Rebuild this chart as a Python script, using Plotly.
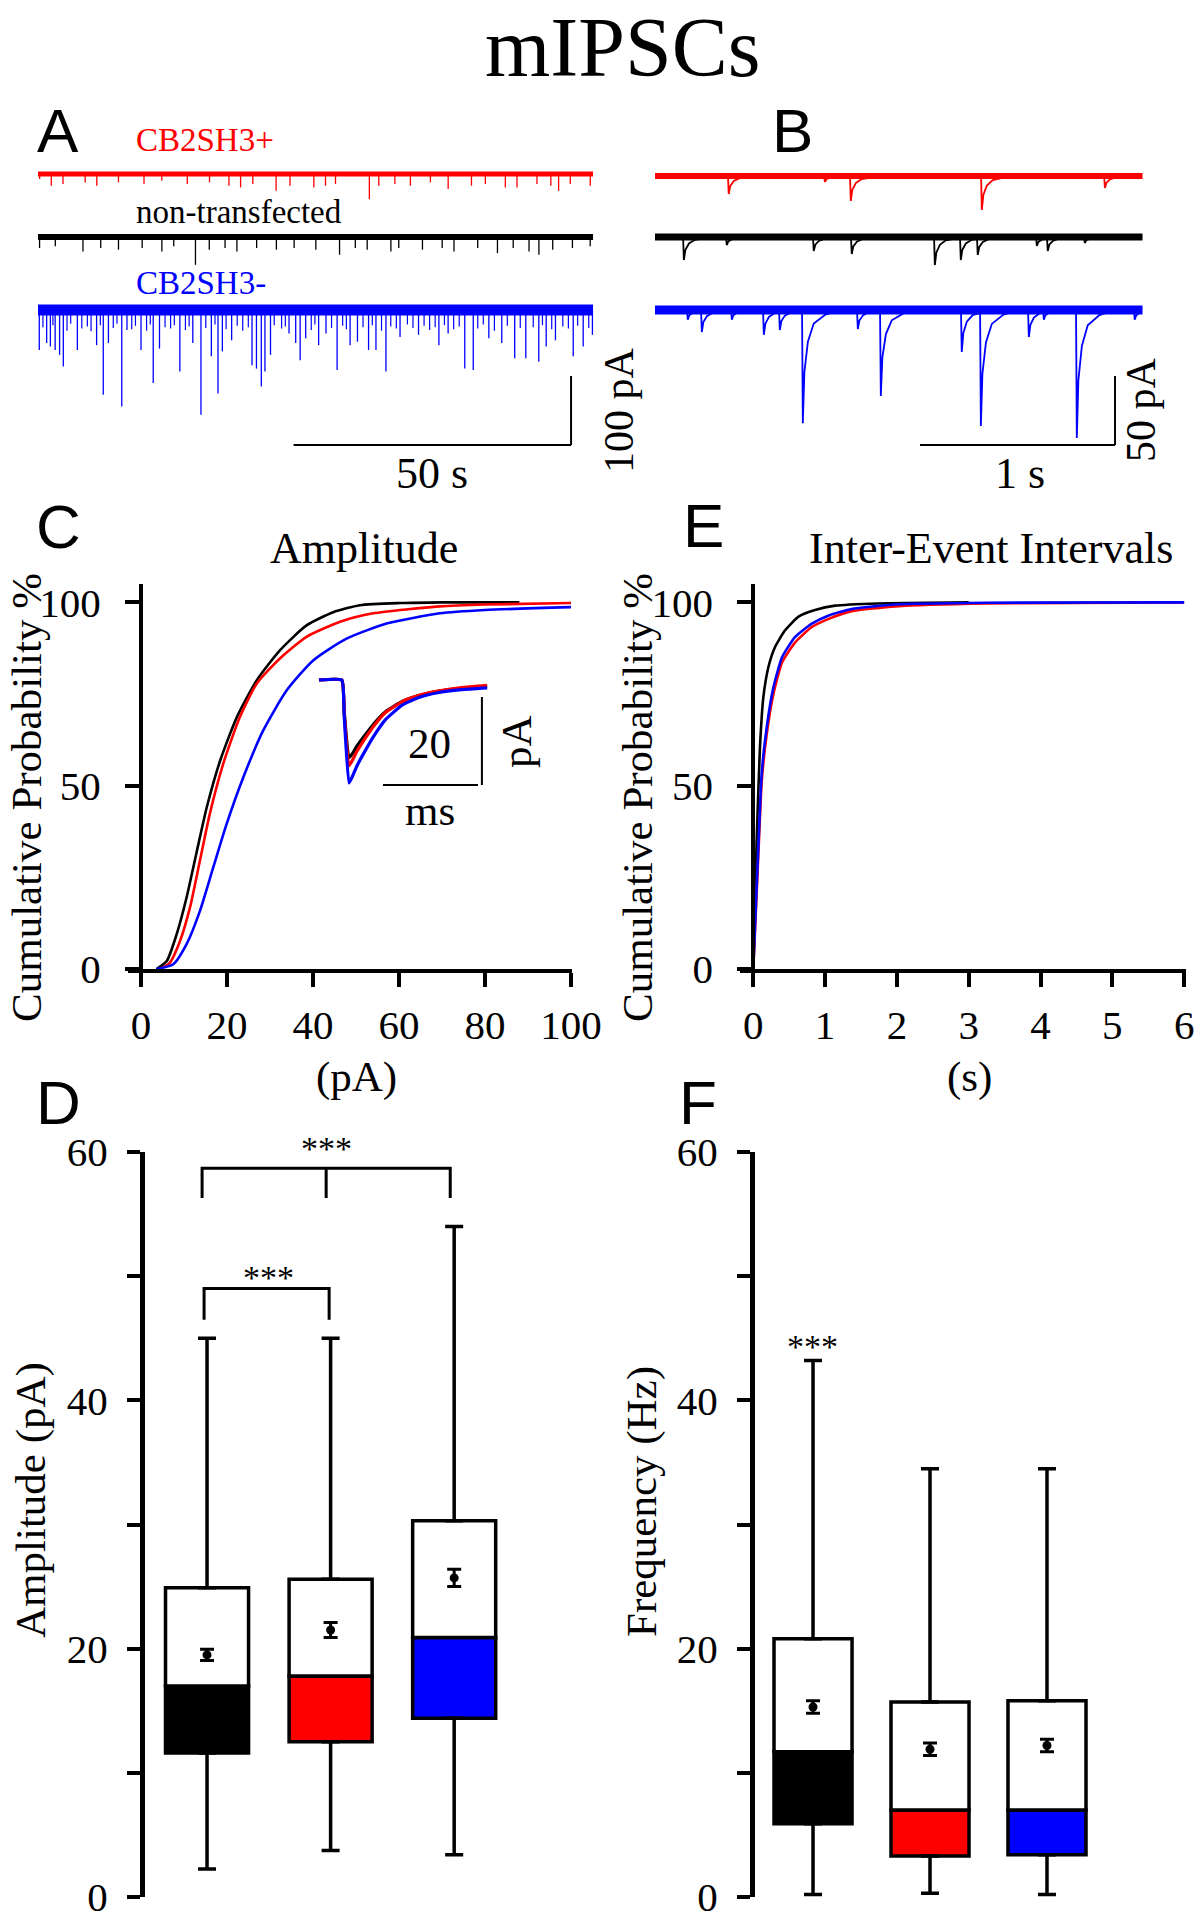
import plotly.graph_objects as go

W, H = 1202, 1920
SERIF = "Liberation Serif"
SANS = "Liberation Sans"
BLACK, RED, BLUE = "#000000", "#FF0000", "#0000FF"

# ---------------- Panel A : 100 s overview (event time [s], amplitude [pA]) ----------------
A_END = 100.0
A_RED_T = [0.3, 2.4, 4.5, 8.5, 10.6, 14.5, 19.1, 22.3, 26.9, 30.9, 34.4, 36.5, 38.7, 42.9, 45.4,
           49.7, 51.8, 53.6, 59.7, 61.4, 64.3, 67.1, 70.7, 73.9, 78.1, 80.6, 84.2, 86.3, 89.9,
           92.4, 93.8, 95.9, 99.5]
A_RED_AMP = [7.3, 17, 14.6, 12.2, 17, 12.2, 14.6, 9.7, 14.6, 12.2, 17, 19.5, 14.6, 24.4, 17,
             19.5, 17, 14.6, 36.5, 17, 14.6, 17, 12.2, 21.9, 17, 14.6, 19.5, 19.5, 14.6,
             17, 24.4, 14.6, 17]
A_BLACK_T = [0.28, 3.12, 8.1, 11.3, 14.5, 18.77, 22.32, 24.46, 28.37, 30.86, 33.7, 35.84, 39.39,
             42.95, 46.15, 50.06, 54.33, 57.17, 59.31, 63.58, 65.0, 69.27, 72.82, 74.95, 79.22,
             82.78, 85.62, 88.47, 90.25, 92.74, 96.29, 99.49]
A_BLACK_AMP = [16, 13.6, 21, 16, 18.5, 16, 21, 13.6, 40.4, 18.5, 16, 21, 16, 18.5, 16, 18.5, 25.8,
               16, 18.5, 21, 16, 18.5, 16, 21, 16, 23.4, 16, 21, 25.8, 18.5, 16, 13.6]
A_BLUE_T = [0.23, 1.56, 2.23, 3.09, 3.89, 4.56, 7.09, 10.56, 11.76, 12.69, 15.09, 16.03, 18.56,
            20.76, 21.89, 25.56, 27.89, 29.36, 31.23, 32.43, 33.22, 34.89, 38.56, 39.36, 40.23,
            40.89, 41.89, 45.23, 46.43, 47.23, 48.23, 50.56, 51.89, 53.89, 56.23, 57.56, 59.56,
            60.89, 62.69, 65.23, 68.56, 72.23, 73.89, 76.89, 78.42, 81.23, 83.56, 85.89, 87.89,
            90.23, 91.56, 93.23, 96.43, 98.23, 99.89]
A_BLUE_AMP = [58, 48, 53, 58, 65, 82, 58, 51, 123, 48, 140, 29, 58, 106, 56, 89, 48, 152, 67, 121,
              60, 44, 80, 85, 111, 89, 65, 34, 48, 73, 41, 51, 34, 87, 51, 46, 58, 58, 89, 39, 36,
              51, 34, 85, 87, 41, 48, 70, 70, 75, 53, 44, 67, 53, 36]
A_BLUE_SMALL_T = [0.89, 2.69, 5.23, 5.89, 7.89, 8.89, 9.56, 11.23, 13.56, 14.23, 16.89, 17.56,
                  19.56, 20.23, 22.89, 23.89, 24.56, 26.56, 27.23, 30.23, 31.89, 33.89, 35.89,
                  36.89, 37.89, 42.56, 43.89, 44.56, 49.23, 49.89, 52.89, 54.89, 55.56, 58.56,
                  60.23, 61.89, 63.56, 64.56, 66.56, 67.56, 69.56, 70.56, 71.56, 73.23, 74.89,
                  75.89, 79.23, 80.23, 82.23, 84.56, 86.89, 89.23, 90.89, 92.56, 94.56, 95.56,
                  97.23, 99.23]
A_BLUE_SMALL_AMP = [25, 22, 30, 20, 27, 24, 31, 22, 26, 20, 28, 23, 30, 21, 25, 27, 22, 29, 24, 26,
                    21, 28, 23, 30, 25, 22, 27, 24, 29, 21, 26, 23, 28, 25, 22, 30, 24, 27, 21, 26,
                    23, 29, 25, 22, 28, 24, 27, 21, 30, 23, 26, 25, 22, 28, 24, 27, 23, 26]

# ---------------- Panel B : 2.5 s excerpt (event time [s], amplitude [pA]) ----------------
B_END = 2.5
B_RED_T = [0.374, 0.867, 1.0, 1.672, 2.303]
B_RED_AMP = [13, 4.3, 18, 24.6, 8.7]
B_BLACK_T = [0.144, 0.364, 0.81, 1.005, 1.431, 1.564, 1.651, 1.954, 2.01, 2.2]
B_BLACK_AMP = [16.7, 5.8, 10.1, 12.3, 20.3, 16.7, 13, 6.5, 10.1, 4.3]
B_BLUE_T = [0.164, 0.236, 0.39, 0.554, 0.636, 0.754, 1.036, 1.154, 1.569, 1.667, 1.913, 1.99,
            2.159, 2.456]
B_BLUE_AMP = [7, 16, 7, 18, 14.5, 82, 13.8, 62.3, 30.4, 84, 19.6, 7, 92.8, 7]
# mean mIPSC shape (time after event onset [s], fraction of peak)
EVENT_DT = [0, 0.004, 0.012, 0.03, 0.06, 0.12, 0.2]
EVENT_FRAC = [0, 1, 0.55, 0.28, 0.12, 0.04, 0]

# ---------------- Panel C : amplitude cumulative distributions ----------------
C_X_BLACK = [3.6, 6.0, 8.3, 10.6, 13.0, 15.3, 18.4, 22.3, 26.9, 32.3, 38.5, 44.7, 50.9, 60.2, 70, 88]
C_Y_BLACK = [0, 2.2, 9.5, 19.5, 32.2, 44.1, 56.8, 68.7, 78.7, 86.9, 93.7, 97.3, 99.2, 99.8, 100, 100]
C_X_RED = [4.4, 6.7, 9.1, 11.4, 13.7, 16.0, 19.1, 23.0, 26.9, 32.3, 38.5, 46.3, 54.0, 69.5, 80, 100]
C_Y_RED = [0, 1.7, 7.7, 16.8, 29.5, 42.3, 55.9, 68.7, 77.8, 84.7, 90.6, 94.7, 97.0, 98.9, 99.4, 99.8]
C_X_BLUE = [3.6, 7.5, 10.6, 13.7, 16.8, 19.9, 23.8, 28.4, 33.9, 40.1, 47.8, 57.1, 69.5, 80, 100]
C_Y_BLUE = [0, 1.3, 6.8, 15.8, 27.7, 39.5, 52.3, 65.0, 76.0, 84.2, 90.1, 94.2, 97.0, 97.9, 98.7]

# inset: averaged mIPSC (ms, pA)
INSET_T = [0, 4.8, 5.3, 6.3, 7.0, 8.0, 9.5, 11.5, 14, 17.5, 21, 25, 30, 35.4]
INSET_BLACK = [0, 0, -7, -17.7, -16.8, -15, -12.8, -10, -7.2, -4.9, -3.6, -2.6, -1.9, -1.5]
INSET_RED = [0, 0, -7.5, -19.5, -18.3, -16.2, -13.6, -10.5, -7.4, -4.9, -3.5, -2.5, -1.7, -1.2]
INSET_BLUE = [0, 0, -8, -23.4, -22, -19.5, -16.5, -12.8, -9.0, -5.7, -4.0, -2.9, -2.2, -1.8]

# ---------------- Panel E : inter-event interval cumulative distributions ----------------
E_T_BLACK = [0, 0.047, 0.093, 0.14, 0.21, 0.30, 0.44, 0.63, 0.86, 1.14, 1.74, 3.0]
E_Y_BLACK = [0, 35, 60.5, 74.1, 82.3, 87.7, 92.3, 96.1, 97.9, 99.1, 99.7, 100]
E_T_RB = [0, 0.07, 0.117, 0.187, 0.28, 0.40, 0.58, 0.81, 1.05, 1.37, 1.98, 3.23, 6.0]
E_Y_RED = [0, 31, 51, 64, 75, 83.6, 89, 93.2, 95.5, 97.6, 98.9, 99.7, 100]
E_Y_BLUE = [0, 33, 53.2, 65.9, 76.8, 85, 90.5, 94.1, 96.4, 98.2, 99.4, 99.9, 100]

# ---------------- Panels D / F : box plots (order: non-transfected, CB2SH3+, CB2SH3-) ----------------
BOX_POS = [1, 2, 3]
BOX_COLORS = [BLACK, RED, BLUE]
D_MIN = [2.26, 3.75, 3.4]
D_Q1 = [11.6, 12.5, 14.4]
D_MED = [17.0, 17.8, 20.9]
D_Q3 = [24.9, 25.6, 30.3]
D_MAX = [45.0, 45.0, 54.0]
D_MEAN = [19.5, 21.5, 25.7]
D_SEM = [0.45, 0.6, 0.7]
F_MIN = [0.2, 0.3, 0.2]
F_Q1 = [5.9, 3.3, 3.4]
F_MED = [11.7, 7.0, 7.0]
F_Q3 = [20.8, 15.7, 15.8]
F_MAX = [43.2, 34.5, 34.5]
F_MEAN = [15.3, 11.9, 12.2]
F_SEM = [0.5, 0.5, 0.5]


def dx(p0, p1):
    return [p0 / W, p1 / W]


def dy(top, bottom):
    return [1 - bottom / H, 1 - top / H]


fig = go.Figure()


def add(tr):
    fig.add_trace(tr)


def band(x0, x1, base, color, width, xa, ya):
    add(go.Scatter(x=[x0, x1], y=[base, base], mode="lines", line=dict(color=color, width=width),
                   xaxis=xa, yaxis=ya, hoverinfo="skip"))


def spikes(ts, amps, base, color, width, xa, ya):
    xs, ys = [], []
    for t, a in zip(ts, amps):
        xs += [t, t, None]
        ys += [base, base - a, None]
    add(go.Scatter(x=xs, y=ys, mode="lines", line=dict(color=color, width=width),
                   xaxis=xa, yaxis=ya, hoverinfo="skip"))


def events(ts, amps, base, color, width, xa, ya, t_end):
    xs, ys = [], []
    for t, a in zip(ts, amps):
        for d, f in zip(EVENT_DT, EVENT_FRAC):
            if t + d > t_end:
                break
            xs.append(t + d)
            ys.append(base - a * f)
        xs.append(None)
        ys.append(None)
    add(go.Scatter(x=xs, y=ys, mode="lines", line=dict(color=color, width=width),
                   xaxis=xa, yaxis=ya, hoverinfo="skip"))


# ---- Panel A (baselines: layout offsets in pA) ----
A_OFF = {"red": 197.1, "black": 105.8, "blue": 0.0}
band(0, A_END, A_OFF["red"], RED, 5, "x", "y")
spikes(A_RED_T, A_RED_AMP, A_OFF["red"], RED, 1.3, "x", "y")
band(0, A_END, A_OFF["black"], BLACK, 6, "x", "y")
spikes(A_BLACK_T, A_BLACK_AMP, A_OFF["black"], BLACK, 1.3, "x", "y")
band(0, A_END, A_OFF["blue"], BLUE, 11, "x", "y")
spikes(A_BLUE_SMALL_T, A_BLUE_SMALL_AMP, A_OFF["blue"], BLUE, 1.2, "x", "y")
spikes(A_BLUE_T, A_BLUE_AMP, A_OFF["blue"], BLUE, 1.3, "x", "y")

# ---- Panel B ----
B_OFF = {"red": 97.1, "black": 52.9, "blue": 0.0}
band(0, B_END, B_OFF["red"], RED, 6, "x2", "y2")
events(B_RED_T, B_RED_AMP, B_OFF["red"], RED, 1.8, "x2", "y2", B_END)
band(0, B_END, B_OFF["black"], BLACK, 7, "x2", "y2")
events(B_BLACK_T, B_BLACK_AMP, B_OFF["black"], BLACK, 1.8, "x2", "y2", B_END)
band(0, B_END, B_OFF["blue"], BLUE, 9, "x2", "y2")
events(B_BLUE_T, B_BLUE_AMP, B_OFF["blue"], BLUE, 1.8, "x2", "y2", B_END)

# ---- Panel C ----
for xs, ys, c in [(C_X_BLACK, C_Y_BLACK, BLACK), (C_X_RED, C_Y_RED, RED), (C_X_BLUE, C_Y_BLUE, BLUE)]:
    add(go.Scatter(x=xs, y=ys, mode="lines", line=dict(color=c, width=2.6, shape="spline", smoothing=0.6),
                   xaxis="x3", yaxis="y3"))
for ys, c in [(INSET_BLACK, BLACK), (INSET_RED, RED), (INSET_BLUE, BLUE)]:
    add(go.Scatter(x=INSET_T, y=ys, mode="lines", line=dict(color=c, width=3.2, shape="spline", smoothing=0.4),
                   xaxis="x7", yaxis="y7"))

# ---- Panel E ----
for xs, ys, c in [(E_T_BLACK, E_Y_BLACK, BLACK), (E_T_RB, E_Y_RED, RED), (E_T_RB, E_Y_BLUE, BLUE)]:
    add(go.Scatter(x=xs, y=ys, mode="lines", line=dict(color=c, width=2.6, shape="spline", smoothing=0.5),
                   xaxis="x4", yaxis="y4"))


# ---- Panels D / F ----
def boxes(q1, med, q3, lo, hi, mean, sem, xa, ya, bw):
    add(go.Bar(x=BOX_POS, y=[m - a for a, m in zip(q1, med)], base=q1, width=bw,
               marker=dict(color=BOX_COLORS, line=dict(color=BLACK, width=3.5)), xaxis=xa, yaxis=ya))
    add(go.Bar(x=BOX_POS, y=[b - m for m, b in zip(med, q3)], base=med, width=bw,
               marker=dict(color="white", line=dict(color=BLACK, width=3.5)), xaxis=xa, yaxis=ya))
    add(go.Scatter(x=BOX_POS, y=q3, mode="markers", marker=dict(size=1, color="rgba(0,0,0,0)"),
                   error_y=dict(type="data", symmetric=False, array=[h - b for b, h in zip(q3, hi)],
                                arrayminus=[0, 0, 0], width=9, thickness=3.5, color=BLACK),
                   xaxis=xa, yaxis=ya))
    add(go.Scatter(x=BOX_POS, y=q1, mode="markers", marker=dict(size=1, color="rgba(0,0,0,0)"),
                   error_y=dict(type="data", symmetric=False, array=[0, 0, 0],
                                arrayminus=[a - l for a, l in zip(q1, lo)], width=9, thickness=3.5, color=BLACK),
                   xaxis=xa, yaxis=ya))
    add(go.Scatter(x=BOX_POS, y=mean, mode="markers", marker=dict(size=9, color=BLACK),
                   error_y=dict(type="data", array=sem, width=7, thickness=3, color=BLACK),
                   xaxis=xa, yaxis=ya))


boxes(D_Q1, D_MED, D_Q3, D_MIN, D_MAX, D_MEAN, D_SEM, "x5", "y5", 0.672)
boxes(F_Q1, F_MED, F_Q3, F_MIN, F_MAX, F_MEAN, F_SEM, "x6", "y6", 0.667)

# ---------------- axes ----------------
tickfont = dict(family=SERIF, size=41, color=BLACK)
hidden = dict(visible=False, showgrid=False, zeroline=False, automargin=False)
cum_y = dict(domain=dy(584, 969), range=[0, 105.0], anchor="free", showline=True, linewidth=4,
             linecolor=BLACK, ticks="outside", ticklen=14, tickwidth=4, tickcolor=BLACK,
             tickvals=[0, 50, 100], tickfont=tickfont, showgrid=False, zeroline=False,
             ticklabelstandoff=16, automargin=False, ticklabeloverflow="allow")
box_y = dict(range=[0, 60], showline=True, linewidth=5, linecolor=BLACK, ticks="outside",
             ticklen=13, tickwidth=4, tickcolor=BLACK, tickvals=[0, 10, 20, 30, 40, 50, 60],
             ticktext=["0", "", "20", "", "40", "", "60"], tickfont=tickfont, showgrid=False,
             zeroline=False, ticklabelstandoff=11, automargin=False, ticklabeloverflow="allow")
cum_x = dict(showline=True, linewidth=4, linecolor=BLACK, ticks="outside", ticklen=14, tickwidth=4,
             tickcolor=BLACK, tickfont=tickfont, showgrid=False, zeroline=False, ticklabelstandoff=3,
             automargin=False, ticklabeloverflow="allow")

fig.update_layout(
    width=W, height=H, autosize=False,
    margin=dict(l=0, r=0, t=0, b=0, pad=0, autoexpand=False),
    paper_bgcolor="white", plot_bgcolor="rgba(0,0,0,0)",
    showlegend=False, barmode="overlay",
    xaxis=dict(domain=dx(0, 620), range=[-6.847, 104.86], anchor="y", **hidden),
    yaxis=dict(domain=dy(100, 500), range=[-275.4, 304.3], anchor="x", **hidden),
    xaxis2=dict(domain=dx(620, 1202), range=[-0.1795, 2.805], anchor="y2", **hidden),
    yaxis2=dict(domain=dy(100, 500), range=[-137.7, 152.2], anchor="x2", **hidden),
    xaxis3=dict(domain=dx(128, 572), range=[-3.02, 100.23], anchor="y3",
                tickvals=[0, 20, 40, 60, 80, 100], **cum_x),
    yaxis3=dict(position=141 / W, **cum_y),
    xaxis4=dict(domain=dx(740, 1186), range=[-0.185, 6.026], anchor="y4",
                tickvals=[0, 1, 2, 3, 4, 5, 6], **cum_x),
    yaxis4=dict(position=753.3 / W, **cum_y),
    xaxis5=dict(domain=dx(145, 600), range=[0.498, 4.18], anchor="y5", **hidden),
    yaxis5=dict(domain=dy(1152, 1897), anchor="x5", **box_y),
    xaxis6=dict(domain=dx(755, 1202), range=[0.504, 4.325], anchor="y6", **hidden),
    yaxis6=dict(domain=dy(1152, 1897), anchor="x6", **box_y),
    xaxis7=dict(domain=dx(300, 560), range=[-4.0, 50.74], anchor="y7", **hidden),
    yaxis7=dict(domain=dy(660, 800), range=[-27.27, 4.545], anchor="x7", **hidden),
)

# ---------------- scale bars and brackets ----------------
shapes = []


def seg(xref, yref, x0, y0, x1, y1, w):
    shapes.append(dict(type="line", xref=xref, yref=yref, x0=x0, y0=y0, x1=x1, y1=y1,
                       line=dict(color=BLACK, width=w)))


# A: 50 s, 100 pA
seg("x", "y", 96.04, -195.65, 96.04, -95.65, 2)
seg("x", "y", 46.04, -195.65, 96.04, -195.65, 2)
# B: 1 s, 50 pA
seg("x2", "y2", 2.359, -97.8, 2.359, -47.8, 2)
seg("x2", "y2", 1.359, -97.8, 2.359, -97.8, 2)
# inset: 20 ms, 20 pA
seg("x7", "y7", 34.3, -23.86, 34.3, -3.86, 2)
seg("x7", "y7", 13.47, -23.86, 33.47, -23.86, 2)
# D brackets
BR_TOP = (58.7, 56.3)
BR_LOW = (49.0, 46.5)
shapes.append(dict(type="path", xref="x5", yref="y5",
                   path=f"M 0.96 {BR_TOP[1]} L 0.96 {BR_TOP[0]} L 2.968 {BR_TOP[0]} L 2.968 {BR_TOP[1]} "
                        f"M 1.964 {BR_TOP[0]} L 1.964 {BR_TOP[1]}",
                   line=dict(color=BLACK, width=3)))
shapes.append(dict(type="path", xref="x5", yref="y5",
                   path=f"M 0.976 {BR_LOW[1]} L 0.976 {BR_LOW[0]} L 1.988 {BR_LOW[0]} L 1.988 {BR_LOW[1]}",
                   line=dict(color=BLACK, width=3)))
fig.update_layout(shapes=shapes)

# ---------------- text ----------------
anns = []


def txt(s, x, y, size, color=BLACK, family=SERIF, angle=0, xanchor="center"):
    anns.append(dict(text=s, x=x / W, y=1 - y / H, xref="paper", yref="paper", showarrow=False,
                     xanchor=xanchor, yanchor="middle", textangle=angle,
                     font=dict(family=family, size=size, color=color)))


txt("mIPSCs", 622, 47, 84)
for lab, x, y in [("A", 58, 130), ("B", 792, 130), ("C", 58, 526), ("E", 703, 525),
                  ("D", 58, 1102), ("F", 698, 1102)]:
    txt(lab, x, y, 62, family=SANS)
txt("CB2SH3+", 134, 140, 33, RED, xanchor="left")
txt("non-transfected", 134, 212, 33, BLACK, xanchor="left")
txt("CB2SH3-", 134, 283, 33, BLUE, xanchor="left")
txt("50 s", 432, 474, 44)
txt("100 pA", 619, 410, 42, angle=-90)
txt("1 s", 1020, 474, 44)
txt("50 pA", 1141, 410, 42, angle=-90)
txt("Amplitude", 364, 548, 44)
txt("Inter-Event Intervals", 991, 548, 44)
txt("Cumulative Probability %", 26, 798, 43, angle=-90)
txt("Cumulative Probability %", 637, 798, 43, angle=-90)
txt("(pA)", 356, 1077, 43)
txt("(s)", 970, 1077, 43)
txt("20", 429, 743, 43)
txt("ms", 430, 810, 43)
txt("pA", 516, 742, 43, angle=-90)
txt("Amplitude (pA)", 31, 1500, 43, angle=-90)
txt("Frequency (Hz)", 642, 1502, 43, angle=-90)
txt("***", 326, 1148, 34)
txt("***", 268, 1277, 34)
txt("***", 812, 1346, 34)
fig.update_layout(annotations=anns)

fig.write_html(
    "out.html",
    config={"displayModeBar": False, "responsive": False},
    post_script="document.body.style.margin='0px';document.body.style.padding='0px';"
                "document.documentElement.style.overflow='hidden';",
)
